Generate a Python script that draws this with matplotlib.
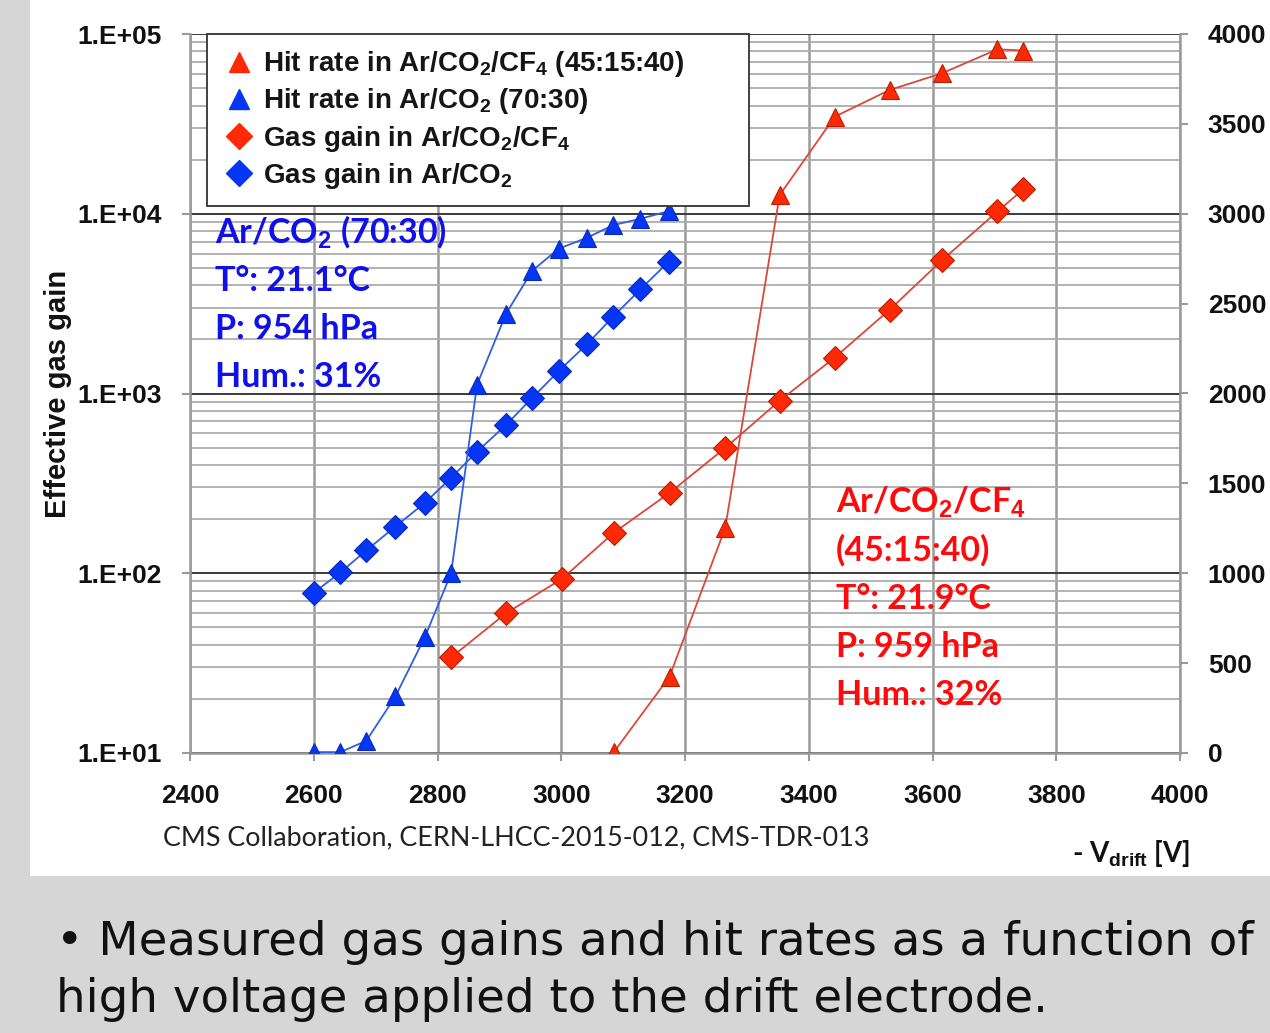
import matplotlib
matplotlib.use('Agg')
import matplotlib.pyplot as plt
from matplotlib.lines import Line2D
from matplotlib.patches import Rectangle
from matplotlib.ticker import FixedLocator, LogLocator, NullFormatter

plt.rcParams['font.family'] = ['Liberation Sans', 'DejaVu Sans']
plt.rcParams['mathtext.fontset'] = 'custom'
plt.rcParams['mathtext.rm'] = 'Liberation Sans:bold'
plt.rcParams['mathtext.it'] = 'Liberation Sans:bold'
plt.rcParams['mathtext.bf'] = 'Liberation Sans:bold'
plt.rcParams['mathtext.default'] = 'rm'

# Ar/CO2 (70:30)
blue_v = [2600, 2643, 2685, 2732, 2780, 2822, 2864, 2911, 2953, 2996, 3042, 3084, 3128, 3174]
blue_gain = [78, 101, 134, 182, 247, 340, 475, 670, 945, 1335, 1885, 2680, 3800, 5420]
blue_rate = [5, 5, 68, 315, 648, 1000, 2050, 2445, 2683, 2806, 2867, 2937, 2972, 3015]

# Ar/CO2/CF4 (45:15:40)
red_v_gain = [2822, 2911, 3001, 3085, 3175, 3265, 3353, 3442, 3531, 3615, 3705, 3747]
red_gain = [34, 60, 93, 168, 280, 498, 912, 1585, 2930, 5500, 10300, 13700]
red_v_rate = [3085, 3175, 3265, 3353, 3442, 3531, 3615, 3705, 3747]
red_rate = [5, 425, 1252, 3104, 3540, 3689, 3781, 3915, 3908]

left_ticks = [10, 100, 1000, 10000, 100000]
left_labels = ['1.E+01', '1.E+02', '1.E+03', '1.E+04', '1.E+05']
x_ticks = [2400, 2600, 2800, 3000, 3200, 3400, 3600, 3800, 4000]
right_ticks = [0, 500, 1000, 1500, 2000, 2500, 3000, 3500, 4000]

legend_labels = [r'Hit rate in Ar/CO$_2$/CF$_4$ (45:15:40)',
                 r'Hit rate in Ar/CO$_2$ (70:30)',
                 r'Gas gain in Ar/CO$_2$/CF$_4$',
                 r'Gas gain in Ar/CO$_2$']

blue_info = [r'Ar/CO$_2$ (70:30)', 'T°: 21.1°C', 'P: 954 hPa', 'Hum.: 31%']
red_info = [r'Ar/CO$_2$/CF$_4$', '(45:15:40)', 'T°: 21.9°C', 'P: 959 hPa', 'Hum.: 32%']

RED_M, RED_L = '#ff2a05', '#d9493a'
BLUE_M, BLUE_L = '#0536f5', '#2f5fe0'

W, H = 1270, 1033
fig = plt.figure(figsize=(W / 100, H / 100), dpi=100, facecolor='#d6d6d6')
fig.patches.append(Rectangle((30 / W, 1 - 876 / H), 1240 / W, 876 / H,
                             transform=fig.transFigure, facecolor='white',
                             edgecolor='none', zorder=-5))

ax = fig.add_axes([190 / W, 1 - 753 / H, 990 / W, 719 / H])
ax.set_facecolor('none')
ax.set_yscale('log')
ax.set_xlim(2400, 4000)
ax.set_ylim(10, 1e5)

ax.yaxis.set_major_locator(FixedLocator(left_ticks))
ax.set_yticklabels(left_labels)
ax.yaxis.set_minor_locator(LogLocator(base=10, subs=range(2, 10)))
ax.yaxis.set_minor_formatter(NullFormatter())
ax.set_xticks(x_ticks)

ax.grid(which='minor', axis='y', color='#adadad', lw=1.3)
ax.grid(which='major', axis='y', color='#3a3a3a', lw=1.4)
ax.grid(which='major', axis='x', color='#9a9a9a', lw=1.8)
ax.set_axisbelow(True)

for s in ['left', 'bottom', 'right']:
    ax.spines[s].set_color('#9a9a9a')
    ax.spines[s].set_linewidth(1.8)
ax.spines['top'].set_visible(False)

ax.tick_params(axis='y', which='minor', length=0)
ax.tick_params(axis='y', which='major', length=6, width=1.5, color='#9a9a9a',
               pad=14, labelsize=19, labelcolor='#111111')
ax.tick_params(axis='x', length=6, width=1.5, color='#9a9a9a', pad=16,
               labelsize=19, labelcolor='#111111')
for lab in ax.get_xticklabels() + ax.get_yticklabels():
    lab.set_fontweight('bold')

ax.set_ylabel('Effective gas gain', fontsize=21, fontweight='bold',
              color='#111111', labelpad=4)

ax.plot(blue_v, blue_gain, color=BLUE_L, lw=1.3, marker='D', ms=12,
        mfc=BLUE_M, mec='#0a2bb8', mew=0.8, zorder=3)
ax.plot(red_v_gain, red_gain, color=RED_L, lw=1.3, marker='D', ms=12,
        mfc=RED_M, mec='#b52000', mew=0.8, zorder=3)

ax2 = ax.twinx()
ax2.set_ylim(0, 4000)
ax2.set_yticks(right_ticks)
for s in ax2.spines.values():
    s.set_visible(False)
ax2.tick_params(axis='y', length=6, width=1.5, color='#9a9a9a', pad=14,
                labelsize=19, labelcolor='#111111')
for lab in ax2.get_yticklabels():
    lab.set_fontweight('bold')

ax2.plot(blue_v, blue_rate, color=BLUE_L, lw=1.3, marker='^', ms=13,
         mfc=BLUE_M, mec='#0a2bb8', mew=0.8, zorder=3)
ax2.plot(red_v_rate, red_rate, color=RED_L, lw=1.3, marker='^', ms=13,
         mfc=RED_M, mec='#b52000', mew=0.8, zorder=3)

handles = [
    Line2D([], [], ls='none', marker='^', ms=15, mfc=RED_M, mec=RED_M),
    Line2D([], [], ls='none', marker='^', ms=15, mfc=BLUE_M, mec=BLUE_M),
    Line2D([], [], ls='none', marker='D', ms=13, mfc=RED_M, mec=RED_M),
    Line2D([], [], ls='none', marker='D', ms=13, mfc=BLUE_M, mec=BLUE_M),
]
leg = ax2.legend(handles, legend_labels, loc='upper left',
                 bbox_to_anchor=(17 / 990, 1.0, 542 / 990, 0.0), mode='expand',
                 borderaxespad=0, frameon=True, fancybox=False, framealpha=1,
                 edgecolor='#333333', prop={'size': 20, 'weight': 'bold'},
                 labelspacing=0.26, handletextpad=0.25, handlelength=1.2,
                 borderpad=0.55)
leg.get_frame().set_linewidth(1.3)
leg.set_zorder(10)
for t in leg.get_texts():
    t.set_color('#151515')

# condition boxes
for i, line in enumerate(blue_info):
    fig.text(215 / W, 1 - (243 + 48 * i) / H, line, color='#1010e8',
             fontsize=24.5, fontweight='bold', family=['Lato', 'DejaVu Sans'],
             va='baseline', ha='left')
for i, line in enumerate(red_info):
    fig.text(836 / W, 1 - (513 + 48 * i) / H, line, color='#ff0a0a',
             fontsize=24.5, fontweight='bold', family=['Lato', 'DejaVu Sans'],
             va='baseline', ha='left')

fig.text(163 / W, 1 - 845 / H, 'CMS Collaboration, CERN-LHCC-2015-012, CMS-TDR-013',
         fontsize=19.4, family=['Lato', 'DejaVu Sans'], color='#222222',
         va='baseline', ha='left')
fig.text(1190 / W, 1 - 862 / H, r'- V$_{drift}$ [V]', fontsize=20,
         fontweight='bold', family=['Lato', 'DejaVu Sans'], color='#111111',
         va='baseline', ha='right')

fig.text(56 / W, 1 - 955 / H, '• Measured gas gains and hit rates as a function of',
         fontsize=33.6, family='DejaVu Sans', color='#111111', va='baseline', ha='left')
fig.text(56 / W, 1 - 1012 / H, 'high voltage applied to the drift electrode.',
         fontsize=33.6, family='DejaVu Sans', color='#111111', va='baseline', ha='left')

fig.savefig('out.png', dpi=100, facecolor=fig.get_facecolor())
